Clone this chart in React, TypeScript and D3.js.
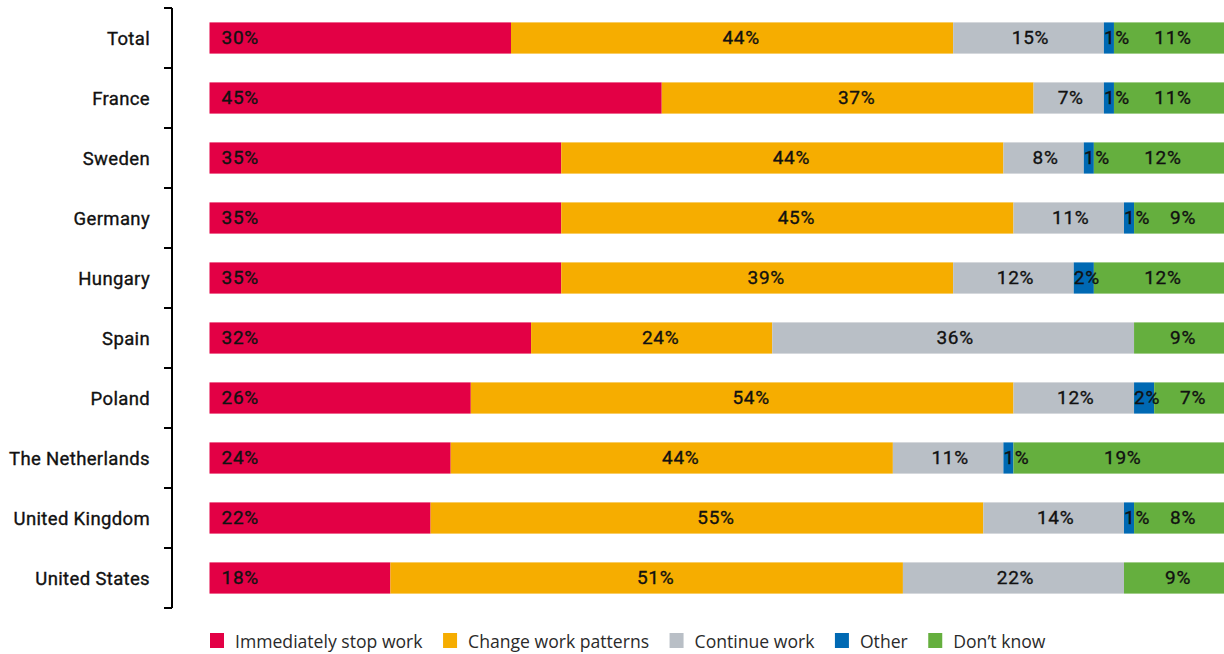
import React, { useEffect, useRef } from "react";
import * as d3 from "d3";

const countries = [
  "Total",
  "France",
  "Sweden",
  "Germany",
  "Hungary",
  "Spain",
  "Poland",
  "The Netherlands",
  "United Kingdom",
  "United States",
];
const seriesNames = [
  "Immediately stop work",
  "Change work patterns",
  "Continue work",
  "Other",
  "Don\u2019t know",
];
const stopWork = [30, 45, 35, 35, 35, 32, 26, 24, 22, 18];
const changePatterns = [44, 37, 44, 45, 39, 24, 54, 44, 55, 51];
const continueWork = [15, 7, 8, 11, 12, 36, 12, 11, 14, 22];
const other = [1, 1, 1, 1, 2, 0, 2, 1, 1, 0];
const dontKnow = [11, 11, 12, 9, 12, 9, 7, 19, 8, 9];
const colors = ["#E30045", "#F6AD00", "#B9BFC6", "#0069B3", "#65AF3E"];
const scaleMax = 101;

const W = 1224;
const H = 654;
const FONT = "'Open Sans', sans-serif";
const FONT_M = "Roboto, sans-serif";

export default function App() {
  const ref = useRef<SVGSVGElement | null>(null);

  useEffect(() => {
    document.body.style.margin = "0";
    const svg = d3.select(ref.current);
    svg.selectAll("*").remove();

    const x = d3.scaleLinear().domain([0, scaleMax]).range([209.5, 1224.5]);
    const y = d3
      .scaleBand<string>()
      .domain(countries)
      .range([8, 608])
      .paddingInner(0.48)
      .paddingOuter(0.24);
    const step = y.step();
    const bw = y.bandwidth();

    const series = [stopWork, changePatterns, continueWork, other, dontKnow];

    // axis line and ticks
    const axis = svg.append("g");
    axis
      .append("line")
      .attr("x1", 172)
      .attr("x2", 172)
      .attr("y1", y.range()[0])
      .attr("y2", y.range()[1])
      .attr("stroke", "#000")
      .attr("stroke-width", 2);
    const tickYs = d3.range(countries.length + 1).map((i) => y.range()[0] + i * step);
    axis
      .selectAll("line.tick")
      .data(tickYs)
      .join("line")
      .attr("class", "tick")
      .attr("x1", 164)
      .attr("x2", 172)
      .attr("y1", (d) => d)
      .attr("y2", (d) => d)
      .attr("stroke", "#000")
      .attr("stroke-width", 2);

    axis
      .selectAll("text.cat")
      .data(countries)
      .join("text")
      .attr("class", "cat")
      .attr("x", 150)
      .attr("y", (d) => (y(d) as number) + bw / 2)
      .attr("dy", "0.38em")
      .attr("text-anchor", "end")
      .attr("font-family", FONT_M)
      .attr("font-size", 18.5)
      .attr("letter-spacing", 0.35)
      .attr("fill", "#111")
      .attr("stroke", "#111")
      .attr("stroke-width", 0.35)
      .text((d) => d);

    // bars
    const rows = countries.map((c, i) => {
      let cum = 0;
      const segs = series.map((s, k) => {
        const v = s[i];
        const x0 = cum;
        let x1 = cum + v;
        if (k === series.length - 1) x1 = Math.max(x1, scaleMax);
        cum = cum + v;
        return { k, v, x0, x1, c };
      });
      return segs;
    });

    const g = svg.append("g");
    rows.forEach((segs) => {
      const c = segs[0].c;
      const yy = y(c) as number;
      g.selectAll(null)
        .data(segs.filter((s) => s.v > 0))
        .join("rect")
        .attr("x", (s) => x(s.x0))
        .attr("width", (s) => x(s.x1) - x(s.x0))
        .attr("y", yy)
        .attr("height", bw)
        .attr("fill", (s) => colors[s.k]);

      const dxs = [0, 9, 2, 0, 4];
      g.selectAll(null)
        .data(segs.filter((s) => s.v > 0))
        .join("text")
        .attr("x", (s) => {
          if (s.k === 0) return x(s.x0) + 12;
          if (s.k === 3) return x(s.x0);
          return (x(s.x0) + Math.min(x(s.x1), W)) / 2 + dxs[s.k];
        })
        .attr("y", yy + bw / 2)
        .attr("dy", "0.34em")
        .attr("text-anchor", (s) => (s.k === 0 || s.k === 3 ? "start" : "middle"))
        .attr("font-family", FONT_M)
        .attr("font-size", 19)
        .attr("letter-spacing", 0.7)
        .attr("fill", "#111")
        .attr("stroke", "#111")
        .attr("stroke-width", 0.35)
        .text((s) => `${s.v}%`);
    });

    // legend
    const leg = svg.append("g");
    let lx = 210;
    seriesNames.forEach((name, k) => {
      leg
        .append("rect")
        .attr("x", lx)
        .attr("y", 633)
        .attr("width", 14)
        .attr("height", 15)
        .attr("fill", colors[k]);
      const t = leg
        .append("text")
        .attr("x", lx + 25)
        .attr("y", 648)
        .attr("font-family", FONT)
        .attr("font-size", 17.6)
        .attr("fill", "#2a2a2a")
        .text(name);
      const w = (t.node() as SVGTextElement).getComputedTextLength();
      lx = lx + 25 + w + 20.5;
    });
  }, []);

  return (
    <svg
      ref={ref}
      width={W}
      height={H}
      style={{ display: "block", background: "#fff" }}
    />
  );
}
